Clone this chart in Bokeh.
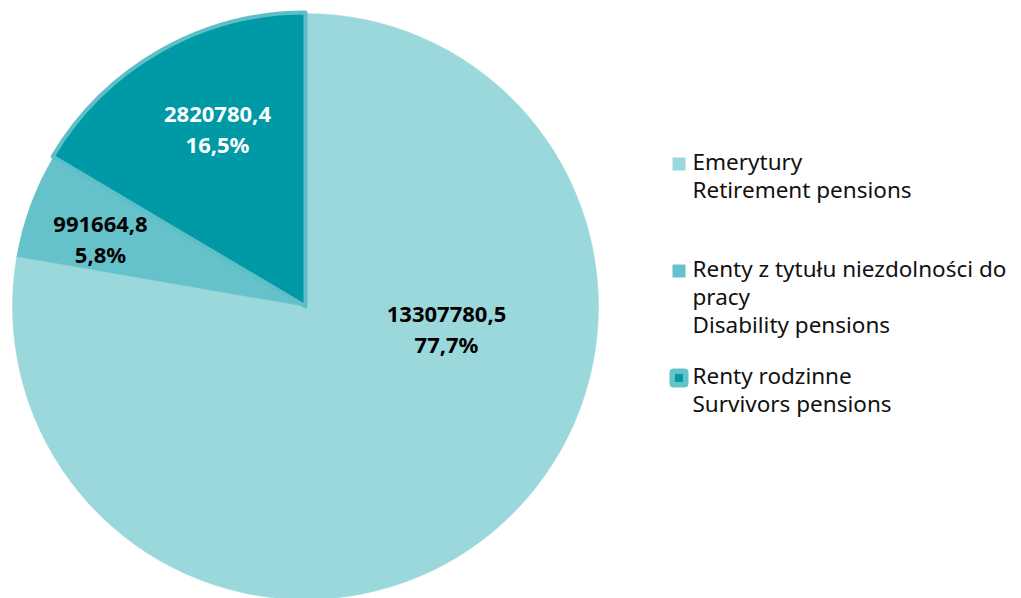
import numpy as np
from bokeh.plotting import figure
from bokeh.models import Range1d
from bokeh.core.properties import value
from bokeh.embed import file_html
from bokeh.resources import INLINE

# ---- data ----
categories_pl = ["Emerytury", "Renty z tytułu niezdolności do\npracy", "Renty rodzinne"]
categories_en = ["Retirement pensions", "Disability pensions", "Survivors pensions"]
values = [13307780.5, 991664.8, 2820780.4]
percent_labels = ["77,7%", "5,8%", "16,5%"]
value_labels = ["13307780,5", "991664,8", "2820780,4"]
colors = ["#9bd8dc", "#66c2ca", "#0099a6"]
label_colors = ["#000000", "#000000", "#ffffff"]

# ---- layout (page pixel coordinates, y downwards -> use negative y) ----
W, H = 1021, 598
cx, cy, R = 305, 306, 293
TXT_SHIFT = 9  # rendered baseline sits this far below the requested y
# label offsets (dx, dy of first baseline) relative to pie centre, per slice
label_off = [(141, 17), (-205, -73), (-88, -183)]
label_line_h = 29
FONT = value("Noto Sans")

p = figure(width=W, height=H, output_backend="svg", toolbar_location=None,
           x_range=Range1d(0, W), y_range=Range1d(-H, 0),
           min_border=0, outline_line_color=None)
p.axis.visible = False
p.grid.visible = False
p.background_fill_color = "white"

vals = np.array(values)
frac = vals / vals.sum()
cum = np.concatenate([[0], np.cumsum(frac)])
start_cw = np.pi / 2 - cum[:-1] * 2 * np.pi
end_cw = np.pi / 2 - cum[1:] * 2 * np.pi

# slices (drawn anticlockwise from end to start)
for i in range(len(values)):
    if i == 2:
        p.wedge(x=cx, y=-cy, radius=R + 1, start_angle=end_cw[i], end_angle=start_cw[i],
                fill_color=colors[i], line_color="#5fbfc8", line_width=4, line_join="round")
    else:
        p.wedge(x=cx, y=-cy, radius=R, start_angle=end_cw[i], end_angle=start_cw[i],
                fill_color=colors[i], line_color=colors[i], line_width=0.5)

# data labels
for i in range(len(values)):
    dx, dy = label_off[i]
    lx, base = cx + dx, cy + dy - TXT_SHIFT
    for k, t in enumerate([value_labels[i], percent_labels[i]]):
        p.text(x=[lx], y=[-(base + k * label_line_h)], text=[t], text_font=FONT,
               text_font_size="22px", text_font_style="bold", text_color=label_colors[i],
               text_align="center", text_baseline="alphabetic")

# legend
leg_x_sq, leg_x_txt = 678.5, 692
leg_first_baseline = [170, 277, 384]
line_h = 28
for i in range(len(values)):
    b = leg_first_baseline[i]
    sq_y = b - 6.5
    if i == 2:
        p.rect(x=[leg_x_sq], y=[-sq_y], width=18, height=18, fill_color="#66c2ca",
               line_color="#66c2ca", border_radius=3)
        p.rect(x=[leg_x_sq], y=[-sq_y], width=8, height=8, fill_color=colors[i], line_color=None)
    else:
        p.rect(x=[leg_x_sq], y=[-sq_y], width=13, height=13, fill_color=colors[i], line_color=None)
    lines = categories_pl[i].split("\n") + [categories_en[i]]
    for k, t in enumerate(lines):
        p.text(x=[leg_x_txt], y=[-(b - TXT_SHIFT + k * line_h)], text=[t], text_font=FONT,
               text_font_size="22.5px", text_color="#111111",
               text_align="left", text_baseline="alphabetic")

open("out.html", "w").write(file_html(p, INLINE))
